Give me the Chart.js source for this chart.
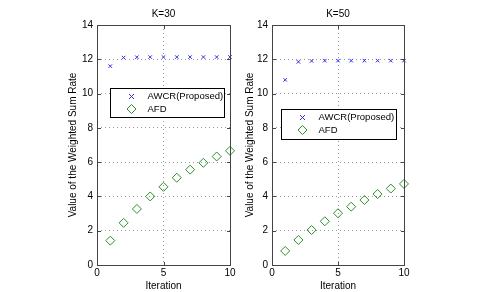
<!DOCTYPE html>
<html>
<head>
<meta charset="utf-8">
<script src="https://cdn.jsdelivr.net/npm/chart.js@4/dist/chart.umd.min.js"></script>
<style>
  html, body { margin: 0; padding: 0; background: #fff; }
  #wrap { display: flex; width: 482px; height: 292px; }
  canvas { display: block; }
</style>
</head>
<body>
<div id="wrap">
  <canvas id="chartK30" width="241" height="292"></canvas>
  <canvas id="chartK50" width="241" height="292"></canvas>
</div>
<script>
const iterations = [1, 2, 3, 4, 5, 6, 7, 8, 9, 10];
const awcrK30 = [11.6, 12.1, 12.12, 12.13, 12.13, 12.13, 12.13, 12.13, 12.13, 12.13];
const afdK30 = [1.42, 2.46, 3.27, 4.0, 4.56, 5.09, 5.56, 5.96, 6.33, 6.66];
const awcrK50 = [10.8, 11.85, 11.9, 11.92, 11.92, 11.92, 11.92, 11.92, 11.92, 11.92];
const afdK50 = [0.82, 1.46, 2.04, 2.55, 3.02, 3.4, 3.79, 4.14, 4.46, 4.73];
const seriesNames = ['AWCR(Proposed)', 'AFD'];
const xTicks = [0, 5, 10];
const yTicks = [0, 2, 4, 6, 8, 10, 12, 14];

const FONT = "'Liberation Sans', Arial, sans-serif";
const BLUE = '#3030ee';
const GREEN = '#2a8f2a';
const FRAME = '#444';

function toPoints(ys) {
    return ys.map((y, i) => ({ x: iterations[i], y: y }));
}

function drawMarker(ctx, style, x, y, r, color) {
    ctx.save();
    ctx.setLineDash([]);
    ctx.strokeStyle = color;
    ctx.lineWidth = 1;
    ctx.beginPath();
    if (style === 'crossRot') {
        ctx.moveTo(x - r, y - r); ctx.lineTo(x + r, y + r);
        ctx.moveTo(x - r, y + r); ctx.lineTo(x + r, y - r);
    } else {
        ctx.moveTo(x, y - r); ctx.lineTo(x + r, y);
        ctx.lineTo(x, y + r); ctx.lineTo(x - r, y);
        ctx.closePath();
    }
    ctx.stroke();
    ctx.restore();
}

// matlab style box, inward ticks and boxed legend
const matlabFrame = {
    id: 'matlabFrame',
    afterDraw(chart, args, opts) {
        const ctx = chart.ctx;
        const a = chart.chartArea;
        const L = Math.round(a.left), T = Math.round(a.top);
        const R = Math.round(a.right), B = Math.round(a.bottom);
        ctx.save();
        ctx.setLineDash([]);
        ctx.globalAlpha = 1;
        ctx.fillStyle = FRAME;
        // box edges as filled 1px strips
        ctx.fillRect(L, T, R - L + 1, 1);
        ctx.fillRect(L, B, R - L + 1, 1);
        ctx.fillRect(L, T, 1, B - T + 1);
        ctx.fillRect(R, T, 1, B - T + 1);

        // inward ticks
        chart.scales.x.ticks.forEach(t => {
            const px = Math.round(chart.scales.x.getPixelForValue(t.value));
            ctx.fillRect(px, B - 3, 1, 3);
            ctx.fillRect(px, T + 1, 1, 3);
        });
        chart.scales.y.ticks.forEach(t => {
            const py = Math.round(chart.scales.y.getPixelForValue(t.value));
            ctx.fillRect(L + 1, py, 3, 1);
            ctx.fillRect(R - 3, py, 3, 1);
        });

        // legend box
        const lx = Math.round(a.left + opts.x) + 0.5;
        const ly = Math.round(a.top + opts.y) + 0.5;
        ctx.fillStyle = '#fff';
        ctx.fillRect(lx, ly, opts.w, opts.h);
        ctx.strokeStyle = '#000';
        ctx.lineWidth = 1;
        ctx.strokeRect(lx, ly, opts.w, opts.h);
        ctx.font = '9.5px ' + FONT;
        ctx.fillStyle = '#000';
        ctx.textBaseline = 'middle';
        chart.data.datasets.forEach((ds, i) => {
            const rowY = ly + 8 + i * 12.5;
            drawMarker(ctx, ds.pointStyle, lx + 21, rowY, ds.pointRadius, ds.borderColor);
            ctx.fillText(ds.label, lx + 37, rowY);
        });
        ctx.restore();
    }
};

function makeChart(id, title, awcr, afd, layout) {
    return new Chart(document.getElementById(id), {
        type: 'scatter',
        data: {
            datasets: [
                {
                    label: seriesNames[0],
                    data: toPoints(awcr),
                    pointStyle: 'crossRot',
                    pointRadius: 2.5,
                    borderColor: BLUE,
                    backgroundColor: BLUE,
                    borderWidth: 1,
                    clip: false
                },
                {
                    label: seriesNames[1],
                    data: toPoints(afd),
                    pointStyle: 'rectRot',
                    pointRadius: 4.5,
                    borderColor: GREEN,
                    backgroundColor: 'rgba(0,0,0,0)',
                    borderWidth: 1,
                    clip: false
                }
            ]
        },
        options: {
            responsive: false,
            animation: false,
            devicePixelRatio: 1,
            layout: { padding: { left: layout.padLeft, right: layout.padRight, top: 0, bottom: 0 } },
            plugins: {
                legend: { display: false },
                tooltip: { enabled: false },
                title: {
                    display: true,
                    fullSize: false,
                    text: title,
                    color: '#000',
                    font: { family: FONT, size: 10, weight: 'normal' },
                    padding: { top: 8, bottom: 5 }
                },
                matlabFrame: layout.legend
            },
            scales: {
                x: {
                    type: 'linear',
                    min: xTicks[0],
                    max: xTicks[xTicks.length - 1],
                    afterBuildTicks: s => { s.ticks = xTicks.map(v => ({ value: v })); },
                    afterFit: s => { s.height = 27; },
                    ticks: { color: '#000', font: { family: FONT, size: 10 }, padding: 2, maxRotation: 0 },
                    grid: { color: '#9a9a9a', drawTicks: false, lineWidth: 1 },
                    border: { display: false, dash: [1, 3] },
                    title: { display: true, text: 'Iteration', color: '#000', font: { family: FONT, size: 10 }, padding: { top: 0, bottom: 0 } }
                },
                y: {
                    type: 'linear',
                    min: yTicks[0],
                    max: yTicks[yTicks.length - 1],
                    afterBuildTicks: s => { s.ticks = yTicks.map(v => ({ value: v })); },
                    afterFit: s => { s.width = layout.yWidth; },
                    ticks: { color: '#000', font: { family: FONT, size: 10 }, padding: 4 },
                    grid: { color: '#9a9a9a', drawTicks: false, lineWidth: 1 },
                    border: { display: false, dash: [1, 3] },
                    title: { display: true, text: 'Value of the Weighted Sum Rate', color: '#000', font: { family: FONT, size: 10 }, padding: { top: 0, bottom: 0 } }
                }
            }
        },
        plugins: [matlabFrame]
    });
}

makeChart('chartK30', 'K=30', awcrK30, afdK30, {
    padLeft: 67, padRight: 11, yWidth: 30,
    legend: { x: 13, y: 63, w: 114, h: 29 }
});
makeChart('chartK50', 'K=50', awcrK50, afdK50, {
    padLeft: 3, padRight: 78, yWidth: 28,
    legend: { x: 9, y: 84, w: 115, h: 30 }
});
</script>
</body>
</html>
